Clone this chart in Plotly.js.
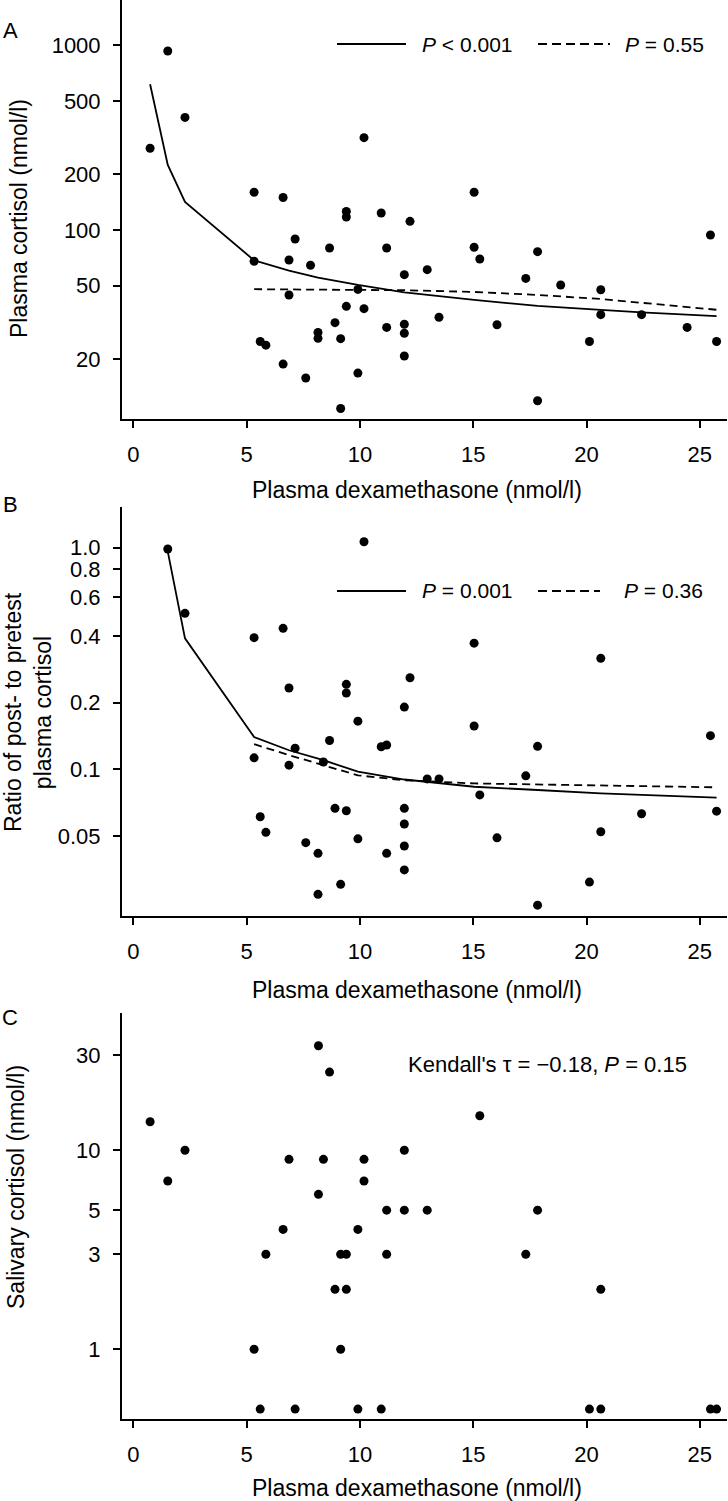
<!DOCTYPE html>
<html>
<head>
<meta charset="utf-8">
<script src="https://cdn.plot.ly/plotly-3.0.1.min.js"></script>
<style>html,body{margin:0;padding:0;background:#fff;}#chart{width:728px;height:1501px;}</style>
</head>
<body>
<div id="chart"></div>
<script>
// ---------- Data ----------
// Panel A: plasma dexamethasone (nmol/l) vs plasma cortisol (nmol/l)
const A_dex = [0.74,1.52,2.28,10.18,5.33,6.61,9.40,9.40,10.94,12.21,15.04,25.47,7.14,8.66,11.18,15.04,15.29,17.84,5.33,6.87,7.82,12.97,11.96,17.32,18.86,20.63,9.91,6.87,9.40,10.18,13.49,20.63,22.43,8.90,11.96,16.05,11.18,24.44,8.15,8.15,11.96,9.15,5.60,5.85,20.13,25.74,11.96,6.61,9.91,7.61,17.84,9.15];
const A_cortisol = [277,931,407,316,160,150,126,117.6,123.6,111.4,160,94,89.4,79.9,79.9,80.6,69.7,76.3,67.7,68.8,64.4,61,57.3,54.7,50.4,47.5,47.7,44.5,38.6,37.5,33.7,34.8,34.8,31.5,30.9,30.7,29.7,29.7,27.9,25.9,27.6,25.8,24.9,23.8,24.9,24.9,20.8,18.8,16.8,15.8,11.9,10.8];
const A_fitAll_x = [0.74,1.52,2.28,5.33,6.87,8.15,9.91,11.96,15.04,17.84,20.63,22.43,25.74];
const A_fitAll_y = [615,225,142,68.5,60.2,55.2,50.4,46,41.8,38.8,36.9,35.8,34.2];
const A_fitSub_x = [5.33,9.91,11.96,15.04,17.84,20.63,22.43,25.74];
const A_fitSub_y = [47.8,47.6,47.2,46.2,44.5,42.3,40.3,37];
const A_legend = ['<i>P</i> < 0.001', '<i>P</i> = 0.55'];

// Panel B: ratio of post- to pretest plasma cortisol
const B_dex = [1.52,10.18,2.28,5.33,6.61,15.04,20.63,12.21,6.87,9.40,9.40,11.96,9.91,15.04,25.47,8.66,7.14,10.94,11.18,17.84,5.33,8.39,6.87,17.32,12.97,13.49,15.29,11.96,8.90,9.40,25.74,22.43,5.60,11.96,5.85,20.63,16.05,9.91,7.61,11.96,8.15,11.18,11.96,20.13,9.15,8.15,17.84];
const B_ratio = [0.987,1.064,0.506,0.393,0.433,0.371,0.317,0.259,0.233,0.242,0.221,0.191,0.165,0.157,0.142,0.135,0.1245,0.1265,0.1288,0.127,0.1127,0.108,0.1045,0.0935,0.0906,0.0906,0.0767,0.0667,0.0667,0.0651,0.0648,0.0631,0.0611,0.0567,0.052,0.0523,0.0491,0.0486,0.0467,0.0451,0.0418,0.0418,0.0352,0.031,0.0303,0.0273,0.0244];
const B_fitAll_x = [1.52,2.28,5.33,6.87,8.39,9.91,11.96,15.04,17.84,20.63,25.74];
const B_fitAll_y = [0.96,0.39,0.140,0.122,0.110,0.0976,0.090,0.0835,0.0807,0.078,0.0745];
const B_fitSub_x = [5.33,6.87,9.91,11.96,15.04,20.63,25.74];
const B_fitSub_y = [0.130,0.116,0.094,0.0893,0.0864,0.0844,0.083];
const B_legend = ['<i>P</i> = 0.001', '<i>P</i> = 0.36'];

// Panel C: salivary cortisol (nmol/l)
const C_dex = [8.17,8.66,0.74,15.29,2.28,11.96,6.87,8.39,10.18,1.52,10.18,8.17,11.18,11.96,12.97,17.84,6.61,9.91,5.85,9.15,9.40,11.18,17.32,8.90,9.40,20.63,5.33,9.15,5.60,7.14,9.91,10.94,20.13,20.63,25.47,25.74];
const C_salivary = [33.5,24.7,13.9,14.9,10,10,9,9,9,7,7,6,5,5,5,5,4,4,3,3,3,3,3,2,2,2,1,1,0.5,0.5,0.5,0.5,0.5,0.5,0.5,0.5];
const C_text = "Kendall's τ = −0.18, <i>P</i> = 0.15";

// Tick labels
const X_ticks = [0,5,10,15,20,25];
const A_yticks = [20,50,100,200,500,1000];
const B_yticks = [0.05,0.1,0.2,0.4,0.6,0.8,1.0];
const B_yticktext = ['0.05','0.1','0.2','0.4','0.6','0.8','1.0'];
const C_yticks = [1,3,5,10,30];
const X_title = 'Plasma dexamethasone (nmol/l)';
const A_ytitle = 'Plasma cortisol (nmol/l)';
const B_ytitle = 'Ratio of post- to pretest<br>plasma cortisol';
const C_ytitle = 'Salivary cortisol (nmol/l)';
const panelLetters = ['A','B','C'];

// ---------- Layout helpers ----------
const W = 728, H = 1501;
const FONT = 'Liberation Sans, Arial, Helvetica, sans-serif';
const px = x => x / W;
const py = y => 1 - y / H;

const xDom = [px(122), px(727)];
const panels = [
  {top: 0, bottom: 419, yr: [Math.log10(9.48), Math.log10(1758)]},
  {top: 507, bottom: 916, yr: [Math.log10(0.0218), Math.log10(1.527)]},
  {top: 1012.7, bottom: 1419, yr: [Math.log10(0.446), Math.log10(49.1)]}
];

function xAxis(anchor) {
  return {domain: xDom, anchor: anchor, range: [-0.5, 26.2], tickvals: X_ticks,
    showline: true, linewidth: 2, linecolor: '#000', ticks: 'outside', ticklen: 7, tickwidth: 2,
    tickcolor: '#000', showgrid: false, zeroline: false, ticklabelstandoff: 8,
    tickfont: {family: FONT, size: 22, color: '#000'}};
}
function yAxis(anchor, p, tv, tt) {
  const a = {domain: [py(p.bottom), py(p.top)], anchor: anchor, type: 'log', range: p.yr,
    tickvals: tv, showline: true, linewidth: 2, linecolor: '#000', ticks: 'outside', ticklen: 7,
    tickwidth: 2, tickcolor: '#000', showgrid: false, zeroline: false, ticklabelstandoff: 8,
    tickfont: {family: FONT, size: 22, color: '#000'}};
  if (tt) a.ticktext = tt; else a.ticktext = tv.map(String);
  return a;
}

const dot = {color: '#000', size: 9};
const solid = {color: '#000', width: 1.8};
const dashed = {color: '#000', width: 1.8, dash: '8px,5px'};

const traces = [
  {x: A_dex, y: A_cortisol, xaxis: 'x', yaxis: 'y', mode: 'markers', marker: dot, showlegend: false},
  {x: A_fitAll_x, y: A_fitAll_y, xaxis: 'x', yaxis: 'y', mode: 'lines', line: solid, showlegend: false},
  {x: A_fitSub_x, y: A_fitSub_y, xaxis: 'x', yaxis: 'y', mode: 'lines', line: dashed, showlegend: false},
  {x: B_dex, y: B_ratio, xaxis: 'x2', yaxis: 'y2', mode: 'markers', marker: dot, showlegend: false},
  {x: B_fitAll_x, y: B_fitAll_y, xaxis: 'x2', yaxis: 'y2', mode: 'lines', line: solid, showlegend: false},
  {x: B_fitSub_x, y: B_fitSub_y, xaxis: 'x2', yaxis: 'y2', mode: 'lines', line: dashed, showlegend: false},
  {x: C_dex, y: C_salivary, xaxis: 'x3', yaxis: 'y3', mode: 'markers', marker: dot, showlegend: false}
];

function ann(text, x, y, size, opts) {
  return Object.assign({text: text, xref: 'paper', yref: 'paper', x: px(x), y: py(y),
    showarrow: false, xanchor: 'center', yanchor: 'middle',
    font: {family: FONT, size: size, color: '#000'}}, opts || {});
}

const annotations = [
  ann(panelLetters[0], 10, 30, 22),
  ann(panelLetters[1], 10, 505, 22),
  ann(panelLetters[2], 10, 1017, 22),
  ann(A_ytitle, 19, 219, 23, {textangle: -90}),
  ann(B_ytitle, 28, 712, 23, {textangle: -90}),
  ann(C_ytitle, 16, 1187, 23, {textangle: -90}),
  ann(X_title, 417, 490, 23),
  ann(X_title, 417, 990, 23),
  ann(X_title, 417, 1488, 23),
  ann(A_legend[0], 420, 45, 21, {xanchor: 'left'}),
  ann(A_legend[1], 623, 45, 21, {xanchor: 'left'}),
  ann(B_legend[0], 420, 591, 21, {xanchor: 'left'}),
  ann(B_legend[1], 622, 591, 21, {xanchor: 'left'}),
  ann(C_text, 406, 1064, 22, {xanchor: 'left'})
];

function keyLine(x0, x1, y, dash) {
  return {type: 'line', xref: 'paper', yref: 'paper', x0: px(x0), x1: px(x1), y0: py(y), y1: py(y),
    line: {color: '#000', width: 1.8, dash: dash}};
}
const shapes = [
  keyLine(337, 406, 44, 'solid'),
  keyLine(538, 610, 44, '9px,5px'),
  keyLine(337, 406, 591, 'solid'),
  keyLine(538, 600, 591, '9px,5px')
];

const layout = {
  width: W, height: H, margin: {l: 0, r: 0, t: 0, b: 0},
  paper_bgcolor: '#fff', plot_bgcolor: '#fff', showlegend: false,
  font: {family: FONT, color: '#000'},
  xaxis: xAxis('y'), yaxis: yAxis('x', panels[0], A_yticks),
  xaxis2: xAxis('y2'), yaxis2: yAxis('x2', panels[1], B_yticks, B_yticktext),
  xaxis3: xAxis('y3'), yaxis3: yAxis('x3', panels[2], C_yticks),
  annotations: annotations, shapes: shapes
};

Plotly.newPlot('chart', traces, layout, {displayModeBar: false, staticPlot: true});
</script>
</body>
</html>
